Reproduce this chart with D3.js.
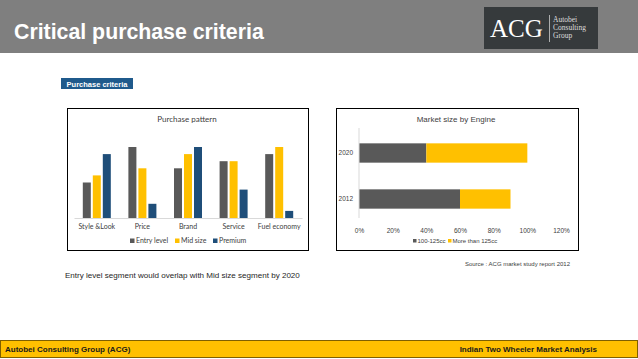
<!DOCTYPE html>
<html><head><meta charset="utf-8">
<script src="https://cdn.jsdelivr.net/npm/d3@7"></script>
<style>body{margin:0;background:#fff}svg{display:block}</style>
</head><body>
<script>
const categories = ["Style &Look", "Price", "Brand", "Service", "Fuel economy"];
const seriesNames = ["Entry level", "Mid size", "Premium"];
const entryLevel = [5, 10, 7, 8, 9];
const midSize = [6, 7, 9, 8, 10];
const premium = [9, 2, 10, 4, 1];
const years = ["2020", "2012"];
const engineNames = ["100-125cc", "More than 125cc"];
const small = [0.40, 0.60];
const large = [0.60, 0.30];
const xTicks = [0, 0.2, 0.4, 0.6, 0.8, 1.0, 1.2];

const W = 638, H = 359;
const svg = d3.select("body").append("svg").attr("width", W).attr("height", H);
const sansA = "'Liberation Sans', Arial, sans-serif";
const sansC = "Lato, 'Open Sans', sans-serif";

// header
svg.append("rect").attr("x",0).attr("y",0).attr("width",W).attr("height",53).attr("fill","#7f7f7f");
svg.append("text").attr("x",14).attr("y",39).text("Critical purchase criteria")
  .attr("font-family",sansA).attr("font-weight","bold").attr("font-size",21.3).attr("fill","#fff");
svg.append("rect").attr("x",484).attr("y",7).attr("width",114).attr("height",42).attr("fill","#363a3c");
svg.append("text").attr("x",490).attr("y",37).text("ACG").attr("font-family","'Liberation Serif', serif")
  .attr("font-size",25).attr("fill","#fff");
svg.append("line").attr("x1",549.5).attr("x2",549.5).attr("y1",15).attr("y2",42).attr("stroke","#ccc").attr("stroke-width",0.8);
["Autobei","Consulting","Group"].forEach((t,i)=>{
  svg.append("text").attr("x",553).attr("y",22+i*8).text(t).attr("font-family","'Liberation Serif', serif")
    .attr("font-size",7.5).attr("fill","#ddd");
});

// label
svg.append("rect").attr("x",61).attr("y",78).attr("width",72).attr("height",11).attr("fill","#1f5a8c");
svg.append("text").attr("x",97).attr("y",86.5).attr("text-anchor","middle").text("Purchase criteria")
  .attr("font-family",sansA).attr("font-weight","bold").attr("font-size",7.5).attr("fill","#fff");

// left chart
svg.append("rect").attr("x",67.5).attr("y",108.5).attr("width",241).attr("height",142).attr("fill","#fff").attr("stroke","#000").attr("stroke-width",1);
svg.append("text").attr("x",187).attr("y",122).attr("text-anchor","middle").text("Purchase pattern")
  .attr("font-family",sansC).attr("font-size",8).attr("fill","#404040");
const colors = ["#595959", "#ffc000", "#1f4e79"];
const x0 = d3.scaleBand().domain(categories).range([74, 302]);
const x1 = d3.scaleBand().domain(seriesNames).range([0, 28]).paddingInner(0.2);
const yL = d3.scaleLinear().domain([0, 10]).range([218, 147]);
const seriesVals = [entryLevel, midSize, premium];
categories.forEach((c, i) => {
  const g = svg.append("g").attr("transform", `translate(${x0(c) + x0.bandwidth()/2 - 14},0)`);
  seriesNames.forEach((s, j) => {
    const v = seriesVals[j][i];
    g.append("rect").attr("x", x1(s)).attr("width", 8).attr("y", yL(v)).attr("height", yL(0) - yL(v)).attr("fill", colors[j]);
  });
});
const axL = svg.append("g").attr("transform","translate(0,218)").call(d3.axisBottom(x0).tickSize(0).tickPadding(6));
axL.select(".domain").attr("stroke","#d9d9d9");
axL.selectAll("text").attr("font-family",sansC).attr("font-size",7).attr("fill","#404040");
const legL = [130, 175, 213];
seriesNames.forEach((s, j) => {
  svg.append("rect").attr("x", legL[j]).attr("y", 238.5).attr("width", 4.5).attr("height", 4.5).attr("fill", colors[j]);
  svg.append("text").attr("x", legL[j] + 6).attr("y", 243).text(s).attr("font-family",sansC).attr("font-size",7).attr("fill","#404040");
});

// right chart
svg.append("rect").attr("x",336.5).attr("y",108.5).attr("width",242).attr("height",142).attr("fill","#fff").attr("stroke","#000").attr("stroke-width",1);
svg.append("text").attr("x",456).attr("y",122).attr("text-anchor","middle").text("Market size by Engine")
  .attr("font-family",sansA).attr("font-size",8).attr("fill","#404040");
const xR = d3.scaleLinear().domain([0, 1.2]).range([359, 561]);
const yR = d3.scaleBand().domain(years).range([130, 222]).paddingInner(0.58).paddingOuter(0.29);
const engColors = ["#595959", "#ffc000"];
years.forEach((yv, i) => {
  svg.append("rect").attr("x", xR(0)).attr("width", xR(small[i]) - xR(0)).attr("y", yR(yv)).attr("height", yR.bandwidth()).attr("fill", engColors[0]);
  svg.append("rect").attr("x", xR(small[i])).attr("width", xR(small[i] + large[i]) - xR(small[i])).attr("y", yR(yv)).attr("height", yR.bandwidth()).attr("fill", engColors[1]);
});
const axY = svg.append("g").attr("transform","translate(359,0)").call(d3.axisLeft(yR).tickSize(0).tickPadding(6));
axY.select(".domain").attr("stroke","#d9d9d9").attr("d","M0,128V218");
axY.selectAll("text").attr("font-family",sansA).attr("font-size",6.5).attr("fill","#404040");
const axX = svg.append("g").attr("transform","translate(0,225)").call(d3.axisBottom(xR).tickValues(xTicks).tickFormat(d3.format(".0%")).tickSize(0).tickPadding(3));
axX.select(".domain").remove();
axX.selectAll("text").attr("font-family",sansA).attr("font-size",6.5).attr("fill","#404040");
const legR = [413, 448];
engineNames.forEach((s, j) => {
  svg.append("rect").attr("x", legR[j]).attr("y", 239).attr("width", 3.5).attr("height", 3.5).attr("fill", engColors[j]);
  svg.append("text").attr("x", legR[j] + 4.5).attr("y", 243).text(s).attr("font-family",sansA).attr("font-size",6).attr("fill","#404040");
});

// notes
svg.append("text").attr("x",570).attr("y",266).attr("text-anchor","end").text("Source : ACG market study report 2012")
  .attr("font-family",sansA).attr("font-size",6).attr("fill","#404040");
svg.append("text").attr("x",65).attr("y",278).text("Entry level segment would overlap with Mid size segment by 2020")
  .attr("font-family",sansA).attr("font-size",8.05).attr("fill","#262626");

// footer
svg.append("rect").attr("x",0.5).attr("y",340.5).attr("width",W-1).attr("height",17).attr("fill","#ffc000").attr("stroke","#7f6000").attr("stroke-width",1);
svg.append("text").attr("x",5).attr("y",352).text("Autobei Consulting Group (ACG)")
  .attr("font-family",sansA).attr("font-weight","bold").attr("font-size",8).attr("fill","#1a1a1a");
svg.append("text").attr("x",597).attr("y",352).attr("text-anchor","end").text("Indian Two Wheeler Market Analysis")
  .attr("font-family",sansA).attr("font-weight","bold").attr("font-size",8).attr("fill","#1a1a1a");
</script>
</body></html>
